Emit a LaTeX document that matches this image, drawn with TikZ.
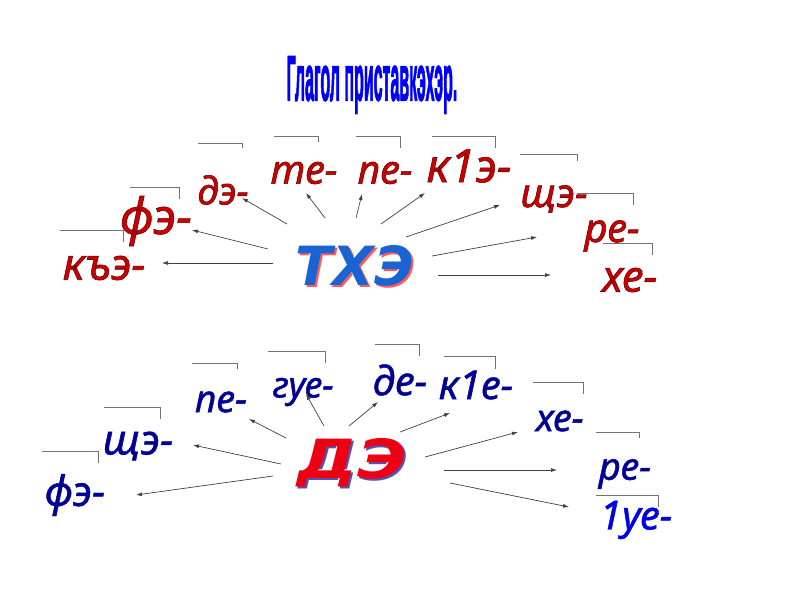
\documentclass[tikz,border=0pt]{standalone}
\usepackage{fontspec}
\setmainfont{Liberation Sans}
\newfontfamily\wordfont{DejaVu Sans}
\newfontfamily\labfont{Noto Sans}
\usepackage{graphicx}
\usetikzlibrary{positioning,arrows.meta}

\definecolor{upred}{RGB}{204,0,0}
\definecolor{lowblue}{RGB}{0,0,150}
\definecolor{brightblue}{RGB}{0,0,230}
\definecolor{txeblue}{RGB}{25,100,210}
\definecolor{dered}{RGB}{238,0,20}

% trazo alrededor de las letras
\newcommand\redline[1]{\special{pdf:literal direct 2 Tr 0.6 w 0.45 0 0 RG}#1\special{pdf:literal direct 0 Tr}}
\newcommand\blueline[1]{\special{pdf:literal direct 2 Tr 0.45 w}#1\special{pdf:literal direct 0 Tr}}
\newcommand\titleline[1]{\special{pdf:literal direct 2 Tr 1.6 w}#1\special{pdf:literal direct 0 Tr}}

\begin{document}
\begin{tikzpicture}[x=1pt, y=-1pt,
    title/.style={text=blue, inner sep=0, font=\fontsize{64}{64}\selectfont\bfseries},
    up/.style={text=upred, inner sep=0, font=\fontsize{44}{44}\selectfont\labfont\itshape},
    low/.style={text=lowblue, inner sep=0, font=\fontsize{42}{42}\selectfont\labfont\itshape},
    big/.style={inner sep=0, font=\fontsize{54}{54}\selectfont\wordfont\bfseries\itshape},
    bracket/.style={draw=black!55, line width=0.9pt},
    arr/.style={-{Latex[length=6pt,width=4pt]}, draw=black!75, line width=0.7pt}
]
\useasboundingbox (0,0) rectangle (800,600);

% Titul
\node[title] (title) at (372,85) {\scalebox{0.25}[1]{\titleline{Глагол приставкэхэр.}}};

% Verbo de arriba
\node[big, text=red!65] (txeshadow) at (357,268) {ТХЭ};
\node[big, text=white] (txewhite) at (354,265) {ТХЭ};
\node[big, text=txeblue] (txe) at (355,266) {ТХЭ};

% Prefijos de arriba
\node[up] (kye)  at (104,268) {\redline{къэ-}};
\node[up, font=\fontsize{50}{50}\selectfont\labfont\itshape] (fe) at (156,221) {\redline{фэ-}};
\node[up, font=\fontsize{38}{38}\selectfont\labfont\itshape] (de) at (223,190) {\redline{дэ-}};
\node[up, font=\fontsize{40}{40}\selectfont\labfont\itshape] (te) at (304,173) {\redline{те-}};
\node[up, font=\fontsize{40}{40}\selectfont\labfont\itshape] (pe) at (385,173) {\redline{пе-}};
\node[up, font=\fontsize{46}{46}\selectfont\labfont\itshape] (kie) at (469,166) {\redline{к1э-}};
\node[up, font=\fontsize{40}{40}\selectfont\labfont\itshape] (sche) at (554,199) {\redline{щэ-}};
\node[up, font=\fontsize{40}{40}\selectfont\labfont\itshape] (re) at (612,236) {\redline{ре-}};
\node[up, font=\fontsize{44}{44}\selectfont\labfont\itshape] (xe) at (630,280) {\redline{хе-}};

% Rayas de arriba
\draw[bracket] (60,230) -- (123,230) -- (123,242);
\draw[bracket] (130,187) -- (179,187) -- (179,199);
\draw[bracket] (198,143) -- (242,143) -- (242,148);
\draw[bracket] (274,136) -- (318,136) -- (318,142);
\draw[bracket] (356,136) -- (400,136) -- (400,148);
\draw[bracket] (432,136) -- (495,136) -- (495,148);
\draw[bracket] (520,154) -- (577,154) -- (577,161);
\draw[bracket] (577,193) -- (633,193) -- (633,205);
\draw[bracket] (603,243) -- (652,243) -- (652,255);

% Flechas de arriba
\coordinate (u1) at (273,263); \coordinate (v1) at (162,263);
\coordinate (u2) at (268,249); \coordinate (v2) at (192,230);
\coordinate (u3) at (287,224); \coordinate (v3) at (242,198);
\coordinate (u4) at (325,218); \coordinate (v4) at (306,193);
\coordinate (u5) at (356,218); \coordinate (v5) at (362,194);
\coordinate (u6) at (381,224); \coordinate (v6) at (425,193);
\coordinate (u7) at (406,237); \coordinate (v7) at (500,205);
\coordinate (u8) at (432,256); \coordinate (v8) at (537,237);
\coordinate (u9) at (438,275); \coordinate (v9) at (551,275);
\draw[arr] (u1) -- (v1);
\draw[arr] (u2) -- (v2);
\draw[arr] (u3) -- (v3);
\draw[arr] (u4) -- (v4);
\draw[arr] (u5) -- (v5);
\draw[arr] (u6) -- (v6);
\draw[arr] (u7) -- (v7);
\draw[arr] (u8) -- (v8);
\draw[arr] (u9) -- (v9);

% Verbo de abajo
\node[big, text=blue!35!gray] (deshadow) at (354,465) {\scalebox{1.25}[1]{ДЭ}};
\node[big, text=white] (dewhite) at (351,462) {\scalebox{1.25}[1]{ДЭ}};
\node[big, text=dered] (dee) at (352,463) {\scalebox{1.25}[1]{ДЭ}};

% Prefijos de abajo
\node[low] (fe2) at (75,495) {\blueline{фэ-}};
\node[low] (sche2) at (138,446) {\blueline{щэ-}};
\node[low, font=\fontsize{38}{38}\selectfont\labfont\itshape] (pe2) at (221,402) {\blueline{пе-}};
\node[low, font=\fontsize{36}{36}\selectfont\labfont\itshape] (gue2) at (303,392) {\blueline{гуе-}};
\node[low, font=\fontsize{40}{40}\selectfont\labfont\itshape] (de2) at (400,380) {\blueline{де-}};
\node[low, font=\fontsize{40}{40}\selectfont\labfont\itshape] (kie2) at (476,385) {\blueline{к1е-}};
\node[low, font=\fontsize{38}{38}\selectfont\labfont\itshape] (xe2) at (560,421) {\blueline{хе-}};
\node[low, font=\fontsize{38}{38}\selectfont\labfont\itshape] (re2) at (625,474) {\blueline{ре-}};
\node[low, text=brightblue, font=\fontsize{40}{40}\selectfont\labfont\itshape] (ue2) at (636,520) {\blueline{1уе-}};

% Rayas de abajo
\draw[bracket] (42,451) -- (98,451) -- (98,463);
\draw[bracket] (104,407) -- (160,407) -- (160,419);
\draw[bracket] (192,363) -- (237,363) -- (237,369);
\draw[bracket] (268,351) -- (325,351) -- (325,363);
\draw[bracket] (375,344) -- (419,344) -- (419,356);
\draw[bracket] (444,356) -- (495,356) -- (495,369);
\draw[bracket] (533,382) -- (583,382) -- (583,394);
\draw[bracket] (596,432) -- (639,432) -- (639,438);
\draw[bracket] (596,495) -- (658,495) -- (658,507);

% Flechas de abajo
\coordinate (p1) at (273,476); \coordinate (q1) at (136,495);
\coordinate (p2) at (281,464); \coordinate (q2) at (193,445);
\coordinate (p3) at (286,438); \coordinate (q3) at (249,419);
\coordinate (p4) at (324,426); \coordinate (q4) at (306,394);
\coordinate (p5) at (349,426); \coordinate (q5) at (378,402);
\coordinate (p6) at (400,432); \coordinate (q6) at (450,413);
\coordinate (p7) at (425,457); \coordinate (q7) at (518,432);
\coordinate (p8) at (444,470); \coordinate (q8) at (557,470);
\coordinate (p9) at (450,483); \coordinate (q9) at (569,507);
\draw[arr] (p1) -- (q1);
\draw[arr] (p2) -- (q2);
\draw[arr] (p3) -- (q3);
\draw[arr] (p4) -- (q4);
\draw[arr] (p5) -- (q5);
\draw[arr] (p6) -- (q6);
\draw[arr] (p7) -- (q7);
\draw[arr] (p8) -- (q8);
\draw[arr] (p9) -- (q9);
\end{tikzpicture}
\end{document}
